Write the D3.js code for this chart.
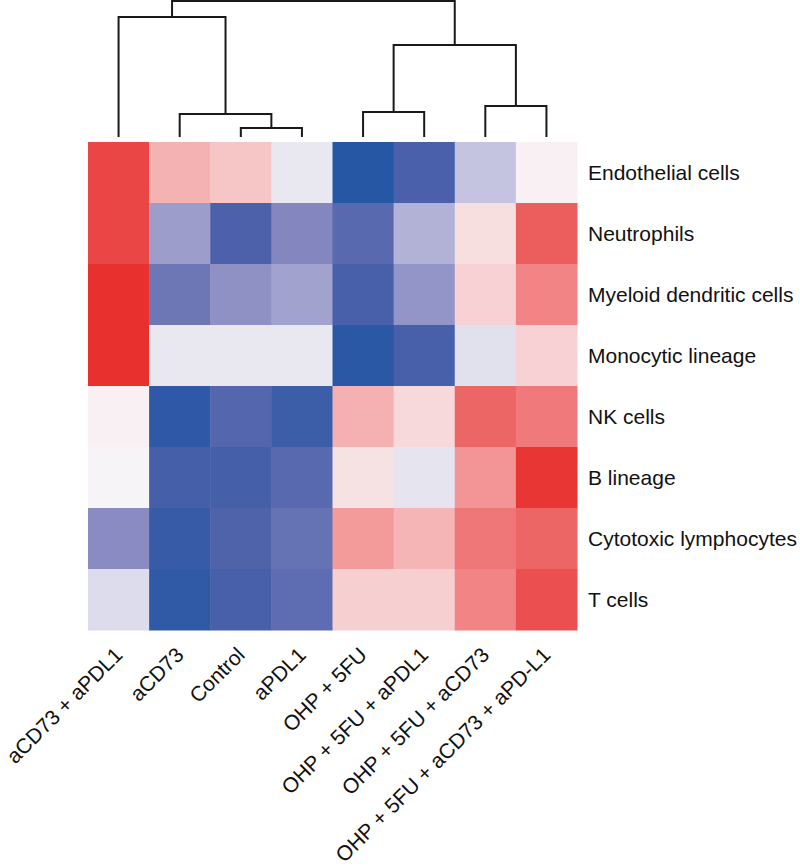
<!DOCTYPE html>
<html><head><meta charset="utf-8">
<script src="https://cdn.jsdelivr.net/npm/d3@7"></script>
<style>body{margin:0;background:#fff}svg{display:block}</style>
</head><body>
<script>
// ---- data ----
const columns = ["aCD73 + aPDL1","aCD73","Control","aPDL1","OHP + 5FU","OHP + 5FU + aPDL1","OHP + 5FU + aCD73","OHP + 5FU + aCD73 + aPD-L1"];
const rowsNames = ["Endothelial cells","Neutrophils","Myeloid dendritic cells","Monocytic lineage","NK cells","B lineage","Cytotoxic lymphocytes","T cells"];
const endothelial = [0.88, 0.32, 0.24, -0.07, -0.98, -0.77, -0.25, 0.03];
const neutrophils = [0.88, -0.42, -0.75, -0.53, -0.70, -0.33, 0.12, 0.75];
const myeloidDC   = [1.00, -0.62, -0.48, -0.40, -0.78, -0.46, 0.18, 0.52];
const monocytic   = [1.00, -0.07, -0.07, -0.07, -0.95, -0.78, -0.11, 0.18];
const nkCells     = [0.03, -0.93, -0.72, -0.85, 0.33, 0.14, 0.70, 0.58];
const bLineage    = [-0.01, -0.80, -0.80, -0.70, 0.10, -0.09, 0.44, 0.97];
const cytotoxic   = [-0.50, -0.88, -0.74, -0.65, 0.42, 0.31, 0.60, 0.70];
const tCells      = [-0.13, -0.92, -0.78, -0.68, 0.19, 0.19, 0.52, 0.83];
const values = [endothelial, neutrophils, myeloidDC, monocytic, nkCells, bLineage, cytotoxic, tCells];
// column dendrogram (merge heights)
const colTree = {h:10, children:[
  {h:8.82, children:[{leaf:0},{h:1.69, children:[{leaf:1},{h:0.66, children:[{leaf:2},{leaf:3}]}]}]},
  {h:6.76, children:[{h:1.84, children:[{leaf:4},{leaf:5}]},{h:2.28, children:[{leaf:6},{leaf:7}]}]}
]};
const colorStops = [-1,-0.75,-0.5,-0.25,0,0.25,0.5,0.75,1];
const colorRange = ["#2356a4","#4d61aa","#8a8bc2","#c4c4e0","#f8f6f8","#f6c3c4","#f28788","#ec5e5e","#e8302e"];

// ---- layout ----
const W=800,H=868;
const hm = {x0:88, x1:577, y0:142, y1:630};
const svg = d3.select("body").append("svg").attr("width",W).attr("height",H);
const x = d3.scaleBand().domain(d3.range(columns.length)).range([hm.x0,hm.x1]);
const y = d3.scaleBand().domain(d3.range(rowsNames.length)).range([hm.y0,hm.y1]);
const color = d3.scaleLinear().domain(colorStops).range(colorRange).interpolate(d3.interpolateRgb).clamp(true);

const cells = [];
values.forEach((row,i)=>row.forEach((v,j)=>cells.push({i,j,v})));
svg.append("g").selectAll("rect").data(cells).join("rect")
  .attr("x",d=>x(d.j)).attr("y",d=>y(d.i))
  .attr("width",x.bandwidth()+0.5).attr("height",y.bandwidth()+0.5)
  .attr("fill",d=>color(d.v));

// row labels
svg.append("g").selectAll("text").data(rowsNames).join("text")
  .attr("x",hm.x1+11).attr("y",(d,i)=>y(i)+y.bandwidth()/2)
  .attr("dy","0.35em")
  .attr("font-family","Liberation Sans, Arial, sans-serif").attr("font-size",21)
  .attr("fill","#111").text(d=>d);

// column labels
svg.append("g").selectAll("text").data(columns).join("text")
  .attr("transform",(d,i)=>`translate(${x(i)+x.bandwidth()/2},${hm.y1+21}) rotate(-45)`)
  .attr("text-anchor","end").attr("dy","0.35em")
  .attr("font-family","Liberation Sans, Arial, sans-serif").attr("font-size",21)
  .attr("fill","#111").text(d=>d);

// dendrogram
const root = d3.hierarchy(colTree);
const hy = d3.scaleLinear().domain([0,10]).range([137,1]);
root.eachAfter(n=>{
  if(n.data.leaf!==undefined){ n.px = x(n.data.leaf)+x.bandwidth()/2; n.py = hy(0); }
  else { n.px = d3.mean(n.children,c=>c.px); n.py = hy(n.data.h); }
});
const g = svg.append("g").attr("fill","none").attr("stroke","#1a1a1a").attr("stroke-width",2);
root.each(n=>{
  if(!n.children) return;
  const [a,b]=n.children;
  g.append("path").attr("d",`M${a.px},${a.py}V${n.py}H${b.px}V${b.py}`);
});
</script>
</body></html>
